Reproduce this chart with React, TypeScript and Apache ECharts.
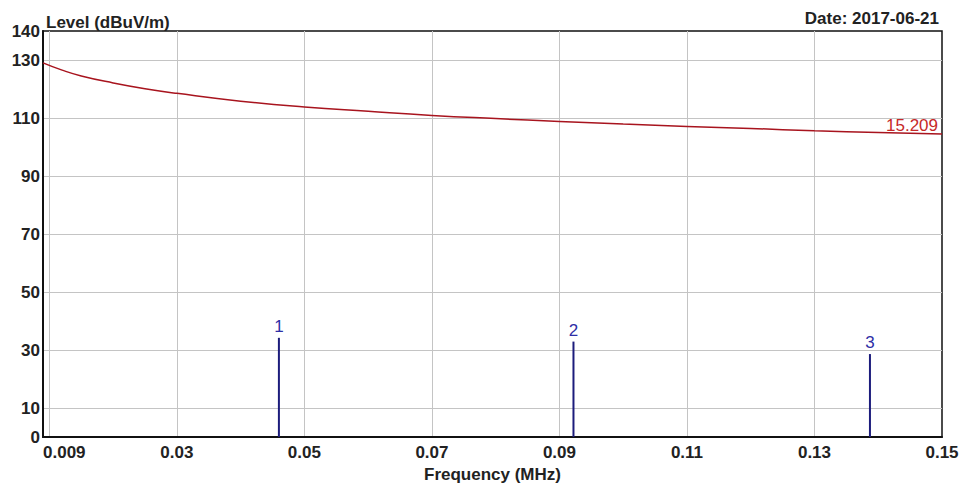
import React, { useEffect, useRef } from "react";
import * as echarts from "echarts";

const frequencies = [0.009, 0.012, 0.015, 0.02, 0.025, 0.03, 0.04, 0.05, 0.06, 0.07, 0.08, 0.09, 0.1, 0.11, 0.12, 0.13, 0.14, 0.15];
const levels = [129, 126.5, 124.5, 122.1, 120.1, 118.5, 115.8, 113.8, 112.3, 110.9, 109.8, 108.8, 107.9, 107.1, 106.4, 105.6, 105.0, 104.5];

const markerFreqs = [0.046, 0.0922, 0.1387];
const markerLevels = [34.2, 32.9, 28.6];
const markerNames = ["1", "2", "3"];

const xTickLabels = [0.009, 0.03, 0.05, 0.07, 0.09, 0.11, 0.13, 0.15];
const xGridValues = [0.01, 0.03, 0.05, 0.07, 0.09, 0.11, 0.13];
const yTickLabels = [0, 10, 30, 50, 70, 90, 110, 130, 140];
const yGridValues = [10, 30, 50, 70, 90, 110, 130];

const endLabelText = "15.209";
const titleText = "Level (dBuV/m)";
const dateText = "Date: 2017-06-21";
const xAxisName = "Frequency (MHz)";

const FONT = "'Liberation Sans', Arial, sans-serif";

export default function App() {
  const ref = useRef<HTMLDivElement>(null);
  useEffect(() => {
    if (!ref.current) return;
    const chart = echarts.init(ref.current, undefined, { renderer: "svg" });
    chart.setOption({
      animation: false,
      backgroundColor: "#ffffff",
      textStyle: { fontFamily: FONT },
      title: [
        {
          text: titleText,
          left: 41,
          top: 9,
          textStyle: { fontSize: 17, fontWeight: "bold", color: "#222", fontFamily: FONT },
        },
        {
          text: dateText,
          right: 17,
          top: 5,
          textStyle: { fontSize: 17, fontWeight: "bold", color: "#222", fontFamily: FONT },
        },
      ],
      grid: {
        left: 43,
        top: 31,
        right: 19,
        bottom: 48,
        show: true,
        borderColor: "#111",
        borderWidth: 1.5,
        containLabel: false,
        outerBoundsMode: "none",
      },
      xAxis: {
        type: "value",
        min: 0.009,
        max: 0.15,
        name: xAxisName,
        nameLocation: "middle",
        nameGap: 26,
        nameTextStyle: { fontSize: 17, fontWeight: "bold", color: "#222", fontFamily: FONT },
        axisLine: { show: true, lineStyle: { color: "#111", width: 2 } },
        axisTick: { show: false, customValues: xGridValues },
        axisLabel: {
          customValues: xTickLabels,
          interval: 0,
          margin: 7,
          alignMinLabel: "left",
          fontSize: 17,
          fontWeight: "bold",
          color: "#222",
          fontFamily: FONT,
          formatter: (v: number) => String(v),
        },
        splitLine: { show: true, lineStyle: { color: "#c4c4c4", width: 1 } },
      },
      yAxis: {
        type: "value",
        min: 0,
        max: 140,
        axisLine: { show: true, lineStyle: { color: "#111", width: 2 } },
        axisTick: { show: false, customValues: yGridValues },
        axisLabel: {
          customValues: yTickLabels,
          interval: 0,
          margin: 3,
          fontSize: 17,
          fontWeight: "bold",
          color: "#222",
          fontFamily: FONT,
        },
        splitLine: { show: true, lineStyle: { color: "#c4c4c4", width: 1 } },
      },
      series: [
        {
          type: "line",
          data: frequencies.map((f, i) => [f, levels[i]]),
          smooth: true,
          showSymbol: false,
          symbol: "none",
          lineStyle: { color: "#a8141e", width: 1.5 },
          itemStyle: { color: "#a8141e" },
          endLabel: {
            show: true,
            formatter: endLabelText,
            align: "right",
            verticalAlign: "bottom",
            offset: [-12, 0],
            color: "#c62828",
            fontSize: 17,
            fontFamily: FONT,
          },
          z: 3,
        },
        {
          type: "bar",
          barWidth: 2,
          data: markerFreqs.map((f, i) => [f, markerLevels[i]]),
          itemStyle: { color: "#1c1c7c" },
          label: {
            show: true,
            position: "top",
            distance: 3,
            formatter: (p: any) => markerNames[p.dataIndex],
            color: "#2e2ea6",
            fontSize: 17,
            fontFamily: FONT,
          },
          z: 2,
        },
      ],
    });
    return () => chart.dispose();
  }, []);
  return (
    <div
      ref={ref}
      style={{ position: "fixed", left: 0, top: 0, width: 961, height: 485 }}
    />
  );
}
